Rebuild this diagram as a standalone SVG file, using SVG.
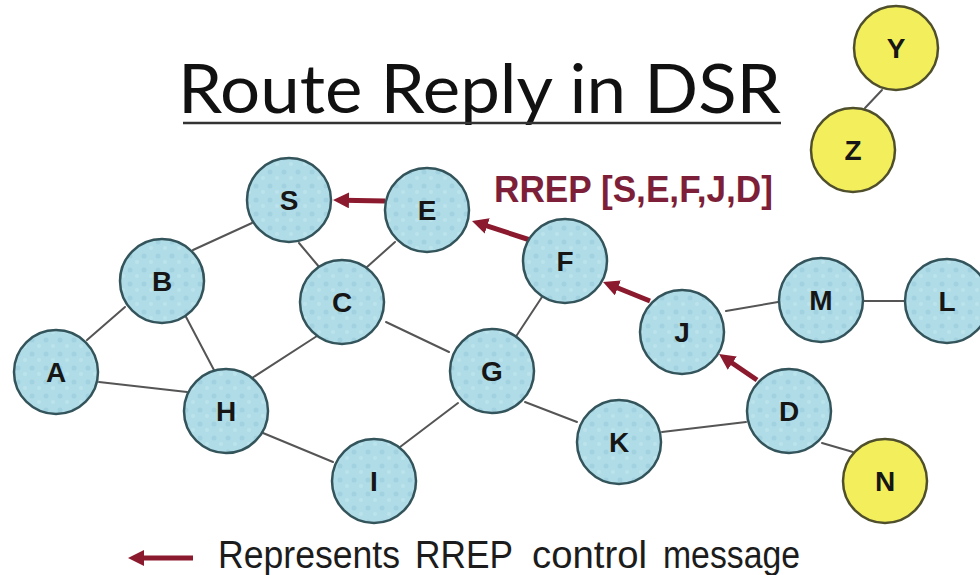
<svg xmlns="http://www.w3.org/2000/svg" width="980" height="575" viewBox="0 0 980 575">
<style>
.bg{fill:#ffffff}
.title{font-family:Lato,"Open Sans","Liberation Sans",sans-serif;font-size:67px;fill:#111111}
.edge{stroke:#555555;stroke-width:2;fill:none;stroke-linecap:round}
.rrep{stroke:#8b1a2e;stroke-width:5;fill:none}
.node{fill:url(#tex);stroke:#34545b;stroke-width:2.5}
.ynode{fill:#f2ee5c;stroke:#4f4f2c;stroke-width:2.5}
.lbl{font-family:"Liberation Sans",Arial,sans-serif;font-weight:bold;font-size:28px;fill:#161616;text-anchor:middle}
.rlbl{font-family:"Liberation Sans",Arial,sans-serif;font-weight:bold;font-size:36px;fill:#7d1f38}
.legend{font-family:"Liberation Sans",Arial,sans-serif;font-size:38px;fill:#1c1c1c}
</style>
<defs>
<marker id="ah" markerUnits="userSpaceOnUse" markerWidth="16" markerHeight="16" refX="6" refY="8" orient="auto">
<path d="M0,0 L16,8 L0,16 z" fill="#8b1a2e"/>
</marker>
<pattern id="tex" patternUnits="userSpaceOnUse" width="14" height="14">
<rect width="14" height="14" fill="#b0dce8"/>
<circle cx="4" cy="4" r="2.5" fill="#a2d2e0"/>
<circle cx="11" cy="10" r="2" fill="#bce3ec"/>
</pattern>
</defs>
<rect class="bg" x="0" y="0" width="980" height="575"/>
<g id="title">
<text class="title" x="178" y="113" textLength="603" lengthAdjust="spacingAndGlyphs">Route Reply in DSR</text>
<line x1="183" y1="123" x2="781" y2="123" stroke="#333333" stroke-width="2.5"/>
</g>
<g id="connectors">
<line class="edge" x1="193" y1="250" x2="252" y2="223"/>
<line class="edge" x1="299" y1="243" x2="320" y2="268"/>
<line class="edge" x1="395" y1="242" x2="367" y2="267"/>
<line class="edge" x1="87" y1="340" x2="125" y2="307"/>
<line class="edge" x1="185" y1="315" x2="215" y2="372"/>
<line class="edge" x1="99" y1="382" x2="187" y2="392"/>
<line class="edge" x1="252" y1="378" x2="317" y2="336"/>
<line class="edge" x1="263" y1="433" x2="333" y2="462"/>
<line class="edge" x1="386" y1="322" x2="449" y2="352"/>
<line class="edge" x1="515" y1="338" x2="542" y2="297"/>
<line class="edge" x1="458" y1="403" x2="400" y2="447"/>
<line class="edge" x1="525" y1="402" x2="577" y2="422"/>
<line class="edge" x1="662" y1="432" x2="746" y2="422"/>
<line class="edge" x1="726" y1="311" x2="778" y2="302"/>
<line class="edge" x1="864" y1="301" x2="907" y2="301"/>
<line class="edge" x1="822" y1="443" x2="853" y2="452"/>
<line class="edge" x1="882" y1="90" x2="865" y2="108"/>
<line class="rrep" x1="385" y1="201" x2="343" y2="200.2" marker-end="url(#ah)"/>
<line class="rrep" x1="530" y1="240" x2="481.5" y2="224.1" marker-end="url(#ah)"/>
<line class="rrep" x1="650" y1="301" x2="612.3" y2="285.7" marker-end="url(#ah)"/>
<line class="rrep" x1="757" y1="380" x2="727.3" y2="359.7" marker-end="url(#ah)"/>
</g>
<g id="node-S"><circle class="node" cx="289" cy="200" r="42"/><text class="lbl" x="289" y="210">S</text></g>
<g id="node-E"><circle class="node" cx="427" cy="210" r="42"/><text class="lbl" x="427" y="220">E</text></g>
<g id="node-B"><circle class="node" cx="162" cy="281" r="42"/><text class="lbl" x="162" y="291">B</text></g>
<g id="node-C"><circle class="node" cx="342" cy="302" r="42"/><text class="lbl" x="342" y="312">C</text></g>
<g id="node-F"><circle class="node" cx="565" cy="261" r="42"/><text class="lbl" x="565" y="271">F</text></g>
<g id="node-A"><circle class="node" cx="56" cy="372" r="42"/><text class="lbl" x="56" y="382">A</text></g>
<g id="node-H"><circle class="node" cx="226" cy="411" r="42"/><text class="lbl" x="226" y="421">H</text></g>
<g id="node-G"><circle class="node" cx="492" cy="371" r="42"/><text class="lbl" x="492" y="381">G</text></g>
<g id="node-J"><circle class="node" cx="682" cy="332" r="42"/><text class="lbl" x="682" y="342">J</text></g>
<g id="node-M"><circle class="node" cx="821" cy="300" r="42"/><text class="lbl" x="821" y="310">M</text></g>
<g id="node-L"><circle class="node" cx="947" cy="301" r="42"/><text class="lbl" x="947" y="311">L</text></g>
<g id="node-D"><circle class="node" cx="789" cy="411" r="42"/><text class="lbl" x="789" y="421">D</text></g>
<g id="node-K"><circle class="node" cx="619" cy="442" r="42"/><text class="lbl" x="619" y="452">K</text></g>
<g id="node-I"><circle class="node" cx="374" cy="481" r="42"/><text class="lbl" x="374" y="491">I</text></g>
<g id="node-N"><circle class="ynode" cx="885" cy="481" r="42"/><text class="lbl" x="885" y="491">N</text></g>
<g id="node-Y"><circle class="ynode" cx="896" cy="48" r="42"/><text class="lbl" x="896" y="58">Y</text></g>
<g id="node-Z"><circle class="ynode" cx="853" cy="150" r="42"/><text class="lbl" x="853" y="160">Z</text></g>
<g id="rrep-label">
<text class="rlbl" x="494" y="202" textLength="279" lengthAdjust="spacingAndGlyphs">RREP [S,E,F,J,D]</text>
</g>
<g id="legend">
<line class="rrep" x1="193" y1="558" x2="138" y2="558" marker-end="url(#ah)"/>
<text class="legend" y="568"><tspan x="218" textLength="182" lengthAdjust="spacingAndGlyphs">Represents</tspan><tspan x="415" textLength="98" lengthAdjust="spacingAndGlyphs">RREP</tspan><tspan x="532" textLength="115" lengthAdjust="spacingAndGlyphs">control</tspan><tspan x="663" textLength="137" lengthAdjust="spacingAndGlyphs">message</tspan></text>
</g>
</svg>
